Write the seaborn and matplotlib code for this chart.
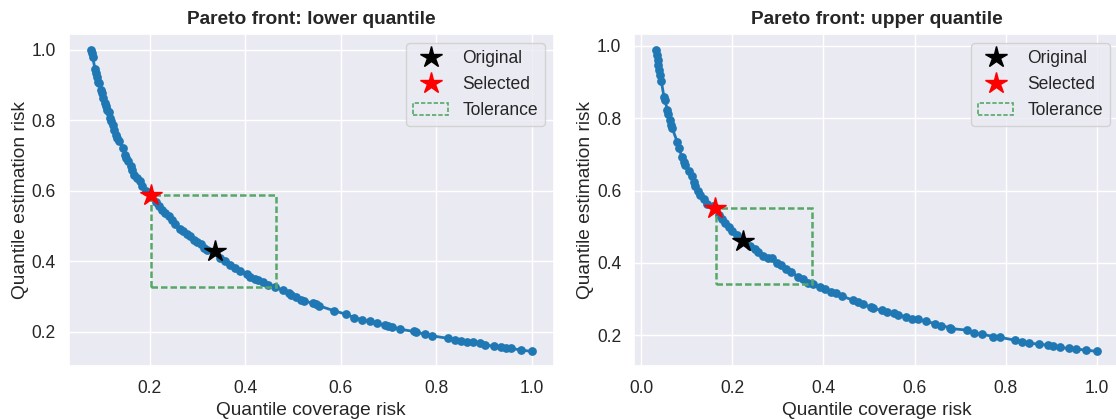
import numpy as np
import pandas as pd
import matplotlib
matplotlib.use("Agg")
import matplotlib.pyplot as plt
from matplotlib.lines import Line2D
from matplotlib.patches import Rectangle
import seaborn as sns

# Pareto front for the lower quantile model
lower_coverage = [
    0.077, 0.079, 0.081, 0.086, 0.0877, 0.090, 0.0926, 0.095, 0.098, 0.100,
    0.103, 0.1064, 0.1085, 0.1118, 0.115, 0.1175, 0.1203, 0.1238, 0.1258, 0.1293,
    0.1328, 0.1362, 0.1445, 0.148, 0.1515, 0.155, 0.1605, 0.164, 0.1674, 0.1743,
    0.1799, 0.1847, 0.1917, 0.202, 0.2125, 0.2194, 0.2263, 0.2333, 0.2402, 0.2471,
    0.254, 0.263, 0.270, 0.2783, 0.2852, 0.2922, 0.2991, 0.3074, 0.313, 0.3199,
    0.3476, 0.358, 0.3684, 0.3788, 0.3892, 0.403, 0.41, 0.4204, 0.4273, 0.4377,
    0.448, 0.462, 0.4793, 0.4918, 0.4966, 0.5056, 0.5174, 0.5243, 0.5416, 0.5486,
    0.5555, 0.5867, 0.611, 0.6283, 0.6456, 0.6608, 0.6768, 0.6927, 0.6997, 0.708,
    0.7239, 0.753, 0.7579, 0.7773, 0.7911, 0.8258, 0.8396, 0.8521, 0.8639, 0.8778,
    0.8916, 0.902, 0.9214, 0.9353, 0.947, 0.9574, 0.9782, 1.0,
]
lower_estimation = [
    1.0, 0.989, 0.978, 0.944, 0.933, 0.923, 0.909, 0.905, 0.886, 0.876,
    0.862, 0.848, 0.839, 0.829, 0.824, 0.806, 0.796, 0.787, 0.773, 0.758,
    0.749, 0.740, 0.721, 0.702, 0.692, 0.683, 0.669, 0.659, 0.645, 0.636,
    0.626, 0.612, 0.598, 0.587, 0.567, 0.556, 0.544, 0.537, 0.527, 0.516,
    0.504, 0.492, 0.485, 0.478, 0.471, 0.461, 0.454, 0.447, 0.438, 0.431,
    0.410, 0.400, 0.388, 0.381, 0.372, 0.362, 0.356, 0.348, 0.345, 0.341,
    0.331, 0.327, 0.317, 0.3105, 0.303, 0.299, 0.290, 0.287, 0.280, 0.2775,
    0.2728, 0.2586, 0.2492, 0.2398, 0.2332, 0.2285, 0.2228, 0.2181, 0.2162, 0.2134,
    0.2068, 0.2002, 0.1974, 0.1926, 0.1879, 0.1804, 0.1766, 0.1738, 0.171, 0.1691,
    0.1672, 0.1625, 0.1578, 0.1549, 0.1521, 0.1521, 0.1474, 0.1436,
]

# Pareto front for the upper quantile model
upper_coverage = [
    0.0331, 0.0353, 0.0367, 0.0374, 0.0389, 0.0411, 0.044, 0.0498, 0.052, 0.0571,
    0.0593, 0.0629, 0.0658, 0.068, 0.0789, 0.0825, 0.0898, 0.0934, 0.0971, 0.1043,
    0.1116, 0.1152, 0.1189, 0.1247, 0.1298, 0.137, 0.1443, 0.1567, 0.1639, 0.1698,
    0.177, 0.1843, 0.1916, 0.1988, 0.2097, 0.2388, 0.2497, 0.257, 0.2679, 0.2788,
    0.2861, 0.297, 0.3079, 0.3188, 0.3297, 0.3442, 0.3551, 0.366, 0.377, 0.3915,
    0.4024, 0.4169, 0.4279, 0.4409, 0.4642, 0.4751, 0.486, 0.5042, 0.5078, 0.5282,
    0.5405, 0.5551, 0.5645, 0.582, 0.5936, 0.6074, 0.6256, 0.6445, 0.659, 0.6772,
    0.6808, 0.715, 0.7296, 0.7477, 0.7732, 0.7877, 0.8204, 0.8364, 0.8517, 0.8728,
    0.8931, 0.904, 0.9186, 0.9382, 0.9549, 0.9767, 1.0,
]
upper_estimation = [
    0.990, 0.974, 0.960, 0.947, 0.933, 0.919, 0.903, 0.859, 0.850, 0.824,
    0.813, 0.795, 0.781, 0.772, 0.735, 0.717, 0.692, 0.680, 0.671, 0.653,
    0.639, 0.625, 0.613, 0.600, 0.588, 0.577, 0.564, 0.556, 0.552, 0.533,
    0.520, 0.510, 0.499, 0.487, 0.478, 0.446, 0.437, 0.430, 0.419, 0.414,
    0.414, 0.400, 0.393, 0.382, 0.374, 0.362, 0.354, 0.345, 0.341, 0.333,
    0.328, 0.320, 0.317, 0.308, 0.297, 0.292, 0.285, 0.278, 0.274, 0.269,
    0.264, 0.260, 0.255, 0.2505, 0.244, 0.244, 0.238, 0.232, 0.226, 0.221,
    0.218, 0.214, 0.2055, 0.203, 0.196, 0.194, 0.186, 0.182, 0.178, 0.175,
    0.1725, 0.1706, 0.166, 0.1633, 0.1614, 0.1587, 0.155,
]

# Original and selected solutions (coverage, estimation)
lower_original = (0.337, 0.428)
lower_selected = (0.202, 0.587)
upper_original = (0.2243, 0.460)
upper_selected = (0.1625, 0.5517)

# Tolerance region: (left, bottom, right, top)
lower_tolerance = (0.202, 0.327, 0.464, 0.587)
upper_tolerance = (0.1647, 0.3423, 0.3748, 0.5517)

titles = ["Pareto front: lower quantile", "Pareto front: upper quantile"]

sns.set_theme(style="darkgrid")
plt.rcParams["font.family"] = ["Liberation Sans", "DejaVu Sans"]

fig = plt.figure(figsize=(11.16, 4.19), dpi=100)
ax_l = fig.add_axes([0.0616, 0.1253, 0.4346, 0.7924])
ax_r = fig.add_axes([0.5684, 0.1253, 0.4340, 0.7924])

panels = [
    (ax_l, lower_coverage, lower_estimation, lower_original, lower_selected, lower_tolerance, titles[0]),
    (ax_r, upper_coverage, upper_estimation, upper_original, upper_selected, upper_tolerance, titles[1]),
]

green = sns.color_palette("deep")[2]
blue = "#1f77b4"
dash = (0, (2.6, 1.2))

for ax, cov, est, orig, sel, tol, title in panels:
    df = pd.DataFrame({"coverage": cov, "estimation": est})
    sns.lineplot(data=df, x="coverage", y="estimation", ax=ax, estimator=None,
                 sort=False, color=blue, linewidth=2.0, marker="o",
                 markersize=6.3, markeredgewidth=0, zorder=2)
    left, bottom, right, top = tol
    ax.add_patch(Rectangle((left, bottom), right - left, top - bottom, fill=False,
                           edgecolor=green, linestyle=dash, linewidth=1.8, zorder=3))
    ax.plot([orig[0]], [orig[1]], marker="*", color="black", markersize=16,
            linestyle="none", zorder=4)
    ax.plot([sel[0]], [sel[1]], marker="*", color="red", markersize=16,
            linestyle="none", zorder=4)
    ax.set_title(title, fontsize=13.8, fontweight="bold", pad=7.5)
    ax.set_xlabel("Quantile coverage risk", fontsize=13.8, labelpad=4)
    ax.set_ylabel("Quantile estimation risk", fontsize=13.8, labelpad=2)
    ax.tick_params(labelsize=12.65)
    ax.set_yticks([0.2, 0.4, 0.6, 0.8, 1.0])

    handles = [
        Line2D([], [], marker="*", color="black", markersize=16, linestyle="none"),
        Line2D([], [], marker="*", color="red", markersize=16, linestyle="none"),
        Rectangle((0, 0), 1, 1, fill=False, edgecolor=green, linestyle=dash, linewidth=1.2),
    ]
    ax.legend(handles, ["Original", "Selected", "Tolerance"], loc="upper right",
              fontsize=12.65)

ax_r.set_xticks([0.0, 0.2, 0.4, 0.6, 0.8, 1.0])

fig.savefig("out.png", dpi=100)
